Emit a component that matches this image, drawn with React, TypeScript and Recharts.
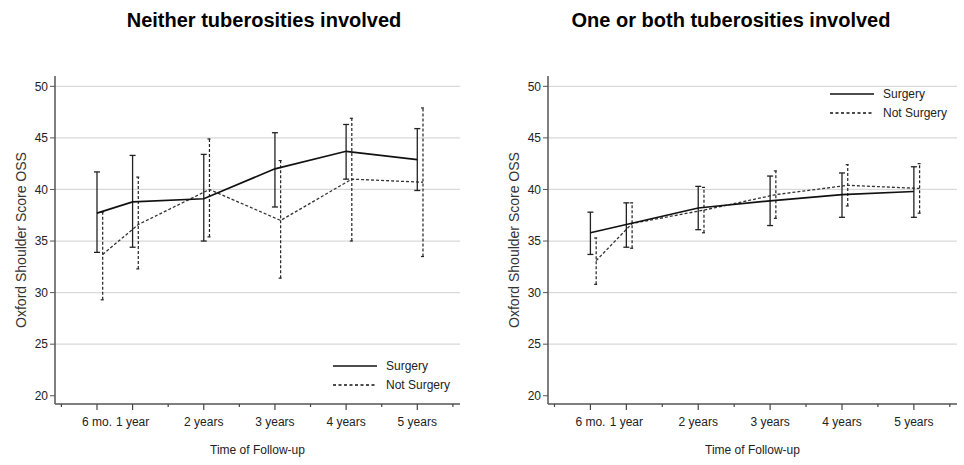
import { ErrorBar, Legend, Line, LineChart, ReferenceLine, XAxis, YAxis } from "recharts";

const years = [0.5, 1, 2, 3, 4, 5];
const tickLabels = ["6 mo.", "1 year", "2 years", "3 years", "4 years", "5 years"];
const allTicks = [0, 0.5, 1, 1.5, 2, 2.5, 3, 3.5, 4, 4.5, 5, 5.5];
const yTicks = [20, 25, 30, 35, 40, 45, 50];
const gridValues = [25, 30, 35, 40, 45, 50];
const seriesNames = ["Surgery", "Not Surgery"];

// Neither tuberosities involved
const neitherSurgMean = [37.7, 38.8, 39.1, 42.0, 43.7, 42.9];
const neitherSurgLow = [33.9, 34.4, 35.0, 38.3, 41.0, 39.9];
const neitherSurgHigh = [41.7, 43.3, 43.4, 45.5, 46.3, 45.9];
const neitherNotMean = [33.7, 36.6, 40.0, 37.0, 41.0, 40.7];
const neitherNotLow = [29.3, 32.3, 35.4, 31.4, 35.0, 33.5];
const neitherNotHigh = [37.8, 41.2, 44.9, 42.8, 46.9, 47.9];

// One or both tuberosities involved
const bothSurgMean = [35.8, 36.6, 38.2, 38.9, 39.5, 39.8];
const bothSurgLow = [33.7, 34.4, 36.1, 36.5, 37.3, 37.3];
const bothSurgHigh = [37.8, 38.7, 40.3, 41.3, 41.6, 42.2];
const bothNotMean = [33.1, 36.7, 38.0, 39.5, 40.4, 40.1];
const bothNotLow = [30.8, 34.3, 35.8, 37.2, 38.4, 37.7];
const bothNotHigh = [35.3, 38.7, 40.2, 41.8, 42.4, 42.5];

const FONT = "'Liberation Sans', Arial, sans-serif";
const X_DOMAIN = [-0.09, 5.6];
const Y_DOMAIN = [19.2, 51];
const NOT_SHIFT = 0.08; // Not Surgery bars are drawn a bit right of the tick

function build(mean: number[], low: number[], high: number[], shift: number) {
  return years.map((t, i) => ({
    t: t + shift,
    v: mean[i],
    err: [mean[i] - low[i], high[i] - mean[i]],
  }));
}

function TimeTick(props: any) {
  const { x, y, payload } = props;
  const idx = years.indexOf(payload.value);
  const major = idx >= 0;
  return (
    <g>
      <line x1={x} x2={x} y1={y} y2={y + (major ? 6 : 3)} stroke="#444" strokeWidth={1.2} />
      {major && (
        <text x={x} y={y + 22} textAnchor="middle" fontSize={12} fill="#222" fontFamily={FONT}>
          {tickLabels[idx]}
        </text>
      )}
    </g>
  );
}

function yTitle(props: any) {
  const vb = props.viewBox;
  const cx = vb.x + 6;
  const cy = vb.y + vb.height / 2;
  return (
    <text x={cx} y={cy} transform={`rotate(-90 ${cx} ${cy})`} textAnchor="middle" dominantBaseline="central"
      fontSize={14} fill="#333" fontFamily={FONT}>
      Oxford Shoulder Score OSS
    </text>
  );
}

function xTitle(props: any) {
  const vb = props.viewBox;
  return (
    <text x={vb.x + vb.width / 2} y={vb.y + 46} textAnchor="middle" dominantBaseline="central"
      fontSize={12} fill="#222" fontFamily={FONT}>
      Time of Follow-up
    </text>
  );
}

function LegendBox() {
  return (
    <svg width={130} height={40} style={{ display: "block" }}>
      {seriesNames.map((name, i) => (
        <g key={name}>
          <line x1={0} x2={44} y1={10 + i * 19} y2={10 + i * 19} stroke="#111"
            strokeWidth={1.6} strokeDasharray={i === 1 ? "3 2.5" : undefined} />
          <text x={53} y={10 + i * 19} dominantBaseline="central" fontSize={12} fill="#222" fontFamily={FONT}>
            {name}
          </text>
        </g>
      ))}
    </svg>
  );
}

function Panel(props: { surg: any[]; not: any[]; margin: any; legendPos: { left: number; top: number } }) {
  const { surg, not, margin, legendPos } = props;
  return (
    <LineChart width={480} height={465} margin={margin}>
      <XAxis dataKey="t" type="number" domain={X_DOMAIN} allowDataOverflow ticks={allTicks} interval={0}
        height={30} tickSize={0} tickMargin={0} tickLine={false} tick={TimeTick}
        axisLine={{ stroke: "#555", strokeWidth: 1.5 }} label={xTitle} />
      <XAxis xAxisId="top" orientation="top" type="number" domain={X_DOMAIN} allowDataOverflow height={0}
        tick={false} tickLine={false} axisLine={{ stroke: "#777", strokeWidth: 1.5 }} />
      <YAxis type="number" domain={Y_DOMAIN} allowDataOverflow ticks={yTicks} interval={0} width={40}
        tickSize={5} tickMargin={2} tickLine={{ stroke: "#555" }} axisLine={{ stroke: "#555", strokeWidth: 1.5 }}
        tick={{ fontSize: 12, fill: "#222", fontFamily: FONT }} label={yTitle} />
      <YAxis yAxisId="right" orientation="right" type="number" domain={Y_DOMAIN} allowDataOverflow width={0}
        tick={false} tickLine={false} axisLine={{ stroke: "#777", strokeWidth: 1.5 }} />
      {gridValues.map((g) => (
        <ReferenceLine key={g} y={g} stroke="#d9d9d9" strokeWidth={1.2} />
      ))}
      <Line data={not} dataKey="v" name="Not Surgery" stroke="#333" strokeWidth={1.3} strokeDasharray="3 2"
        dot={false} isAnimationActive={false}>
        <ErrorBar dataKey="err" direction="y" width={2} stroke="#222" strokeWidth={1.2} strokeDasharray="3 2" />
      </Line>
      <Line data={surg} dataKey="v" name="Surgery" stroke="#111" strokeWidth={1.7} dot={false}
        isAnimationActive={false}>
        <ErrorBar dataKey="err" direction="y" width={3} stroke="#222" strokeWidth={1.3} />
      </Line>
      <Legend layout="horizontal" verticalAlign="middle" align="center"
        wrapperStyle={{ left: legendPos.left, top: legendPos.top, width: 130, height: 40 }}
        content={() => <LegendBox />} />
    </LineChart>
  );
}

export default function App() {
  return (
    <div style={{ position: "absolute", left: 0, top: 0, width: 964, height: 465, background: "#fff" }}>
      <svg width={964} height={40} style={{ position: "absolute", left: 0, top: 0 }}>
        <text x={264} y={20} textAnchor="middle" dominantBaseline="central" fontSize={20} fontWeight="bold"
          fill="#000" fontFamily={FONT}>
          Neither tuberosities involved
        </text>
        <text x={731} y={20} textAnchor="middle" dominantBaseline="central" fontSize={20} fontWeight="bold"
          fill="#000" fontFamily={FONT}>
          One or both tuberosities involved
        </text>
      </svg>
      <div style={{ position: "absolute", left: 0, top: 0 }}>
        <Panel
          surg={build(neitherSurgMean, neitherSurgLow, neitherSurgHigh, 0)}
          not={build(neitherNotMean, neitherNotLow, neitherNotHigh, NOT_SHIFT)}
          margin={{ top: 76, right: 20, bottom: 31, left: 15 }}
          legendPos={{ left: 333, top: 356 }}
        />
      </div>
      <div style={{ position: "absolute", left: 484, top: 0 }}>
        <Panel
          surg={build(bothSurgMean, bothSurgLow, bothSurgHigh, 0)}
          not={build(bothNotMean, bothNotLow, bothNotHigh, NOT_SHIFT)}
          margin={{ top: 76, right: 7, bottom: 31, left: 24 }}
          legendPos={{ left: 346, top: 84 }}
        />
      </div>
    </div>
  );
}
